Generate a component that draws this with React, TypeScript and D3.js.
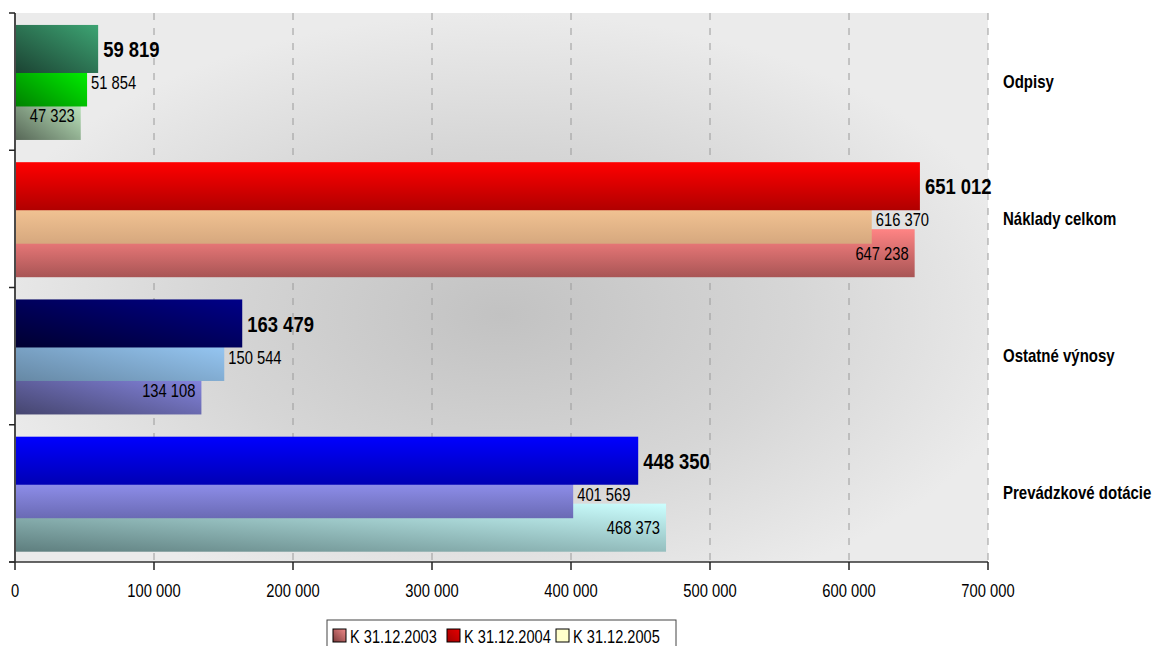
import React, { useMemo } from "react";
import * as d3 from "d3";

const categories = ["Odpisy", "Náklady celkom", "Ostatné výnosy", "Prevádzkové dotácie"];
const values2005 = [59819, 651012, 163479, 448350];
const values2004 = [51854, 616370, 150544, 401569];
const values2003 = [47323, 647238, 134108, 468373];
const seriesNames = ["K 31.12.2003", "K 31.12.2004", "K 31.12.2005"];
const xTickValues = [0, 100000, 200000, 300000, 400000, 500000, 600000, 700000];

// bar order inside a group: top, middle, bottom
const groupSeries = [values2005, values2004, values2003];

// styles: [light, dark, direction] per category per position (top, middle, bottom)
const barStyles: [string, string, string][][] = [
  [["#3da473", "#1b4232", "diag"], ["#00ff00", "#008000", "diag"], ["#cbf7cb", "#566656", "diag"]],
  [["#ff0000", "#b00000", "vert"], ["#fccd9b", "#d6a87e", "vert"], ["#ff8484", "#a85555", "vert"]],
  [["#000088", "#000030", "diag"], ["#9dd0ff", "#6688a4", "diag"], ["#8e8ef0", "#45456e", "diag"]],
  [["#0000ff", "#0000b4", "vert"], ["#9c9cff", "#6a6ab4", "vert"], ["#ccffff", "#5e7e7e", "diag"]],
];
const legendStyles: [string, string][] = [
  ["#f08a8a", "#7a3a3a"],
  ["#e80000", "#a00000"],
  ["#ffffcc", "#ffffcc"],
];

const W = 1154, H = 646;
const plot = { left: 15, right: 988, top: 13, bottom: 562 };

function useNarrowAvailable() {
  return useMemo(() => {
    try {
      const c = document.createElement("canvas").getContext("2d");
      if (!c) return false;
      const s = "0123456789 abcdefgh ABCDEFG";
      c.font = "20px monospace";
      const a = c.measureText(s).width;
      c.font = "20px 'Liberation Sans Narrow', monospace";
      const b = c.measureText(s).width;
      return Math.abs(a - b) > 1;
    } catch (e) {
      return false;
    }
  }, []);
}

export default function App() {
  const narrow = useNarrowAvailable();
  const fam = narrow ? "'Liberation Sans Narrow', 'Arial Narrow', sans-serif" : "'Liberation Sans', Arial, sans-serif";
  const sx = narrow ? 1 : 0.82;

  const x = d3.scaleLinear().domain([0, 700000]).range([plot.left, plot.right]);
  const y = d3.scaleBand<string>().domain(categories).range([plot.top, plot.bottom]).padding(0);
  const bw = y.bandwidth();
  // within-band bar positions
  const inner = d3.scaleLinear().domain([0, 2]).range([bw * 0.087, bw * 0.087 + bw * 0.488]);
  const barH = bw * 0.35;

  const loc = d3.formatLocale({ decimal: ",", thousands: "\u00a0", grouping: [3], currency: ["", ""] });
  const fmt = loc.format(",d");
  const fmtPlain = (v: number) => fmt(v).replace(/\u00a0/g, " ");

  const T = (props: { x: number; y: number; size: number; bold?: boolean; anchor?: string; children: any; baseline?: string }) => (
    <text
      transform={`translate(${props.x},${props.y}) scale(${sx},1)`}
      fontFamily={fam}
      fontSize={props.size}
      fontWeight={props.bold ? "bold" : "normal"}
      textAnchor={props.anchor || "start"}
      dominantBaseline={props.baseline || "central"}
      fill="#000"
    >
      {props.children}
    </text>
  );

  return (
    <svg width={W} height={H} style={{ position: "absolute", left: 0, top: 0, background: "#fff" }}>
      <defs>
        <radialGradient id="bg" cx="0.5" cy="0.55" r="0.55">
          <stop offset="0" stopColor="#c2c2c2" />
          <stop offset="0.55" stopColor="#d6d6d6" />
          <stop offset="1" stopColor="#ebebeb" />
        </radialGradient>
        {barStyles.map((row, ci) =>
          row.map(([light, dark, dir], pi) => (
            <linearGradient
              key={`g${ci}-${pi}`}
              id={`g${ci}-${pi}`}
              x1="0"
              y1="1"
              x2={dir === "diag" ? "1" : "0"}
              y2="0"
            >
              <stop offset="0" stopColor={dark} />
              <stop offset="1" stopColor={light} />
            </linearGradient>
          ))
        )}
        {legendStyles.map(([light, dark], i) => (
          <linearGradient key={`l${i}`} id={`l${i}`} x1="0" y1="1" x2="1" y2="0">
            <stop offset="0" stopColor={dark} />
            <stop offset="1" stopColor={light} />
          </linearGradient>
        ))}
      </defs>

      <rect x={plot.left} y={plot.top} width={plot.right - plot.left} height={plot.bottom - plot.top} fill="url(#bg)" />

      {xTickValues.slice(1).map((t) => (
        <line key={`gl${t}`} x1={x(t)} x2={x(t)} y1={plot.top} y2={plot.bottom} stroke="#9a9a9a" strokeWidth={1} strokeDasharray="7,8" />
      ))}

      {categories.map((cat, ci) => {
        const y0 = y(cat)!;
        return (
          <g key={cat}>
            {[2, 1, 0].map((pi) => {
              const v = groupSeries[pi][ci];
              return (
                <rect
                  key={pi}
                  x={x(0)}
                  y={y0 + inner(pi)}
                  width={x(v) - x(0)}
                  height={barH}
                  fill={`url(#g${ci}-${pi})`}
                />
              );
            })}
          </g>
        );
      })}

      {categories.map((cat, ci) => {
        const y0 = y(cat)!;
        return (
          <g key={`lab${cat}`}>
            {[0, 1, 2].map((pi) => {
              const v = groupSeries[pi][ci];
              const cy = y0 + inner(pi) + barH / 2;
              if (pi === 0)
                return (
                  <T key={pi} x={x(v) + 5} y={cy} size={22.5} bold>
                    {fmtPlain(v)}
                  </T>
                );
              if (pi === 1)
                return (
                  <T key={pi} x={x(v) + 4} y={cy} size={18}>
                    {fmtPlain(v)}
                  </T>
                );
              return (
                <T key={pi} x={x(v) - 6} y={cy} size={18} anchor="end">
                  {fmtPlain(v)}
                </T>
              );
            })}
            <T x={1003} y={y0 + bw / 2} size={18.3} bold>
              {cat}
            </T>
          </g>
        );
      })}

      {/* axes */}
      <line x1={plot.left} x2={plot.left} y1={plot.top} y2={plot.bottom} stroke="#4a4a4a" strokeWidth={2} />
      {[...categories.map((c) => y(c)!), plot.bottom].map((yy, i) => (
        <line key={`yt${i}`} x1={9} x2={plot.left} y1={yy} y2={yy} stroke="#222" strokeWidth={1.5} />
      ))}
      <line x1={9} x2={plot.right} y1={plot.bottom} y2={plot.bottom} stroke="#333" strokeWidth={1.5} />
      {xTickValues.map((t) => (
        <g key={`xt${t}`}>
          <line x1={x(t)} x2={x(t)} y1={plot.bottom} y2={plot.bottom + 8} stroke="#222" strokeWidth={1.5} />
          <T x={x(t)} y={597} size={18} anchor="middle" baseline="alphabetic">
            {fmtPlain(t)}
          </T>
        </g>
      ))}

      {/* legend */}
      <rect x={327} y={620} width={349} height={32} fill="#fff" stroke="#444" strokeWidth={1} />
      {seriesNames.map((name, i) => {
        const lx = [333, 447, 556][i];
        return (
          <g key={name}>
            <rect x={lx} y={629} width={13} height={13} fill={`url(#l${i})`} stroke="#000" strokeWidth={1} />
            <T x={lx + 17} y={636} size={17.8}>
              {name}
            </T>
          </g>
        );
      })}
    </svg>
  );
}
